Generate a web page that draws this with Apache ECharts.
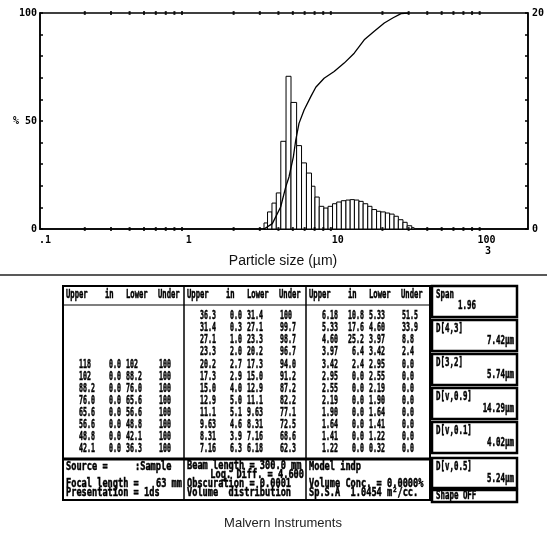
<!DOCTYPE html>
<html><head><meta charset="utf-8">
<script src="https://cdn.jsdelivr.net/npm/echarts@6/dist/echarts.min.js"></script>
<style>html,body{margin:0;padding:0;background:#fff;}#c{width:547px;height:537px;}</style>
</head><body><div id="c"></div>
<script>
// ---------- chart data ----------
const binEdges = [3.20, 3.38, 3.62, 3.87, 4.15, 4.50, 4.86, 5.30, 5.72, 6.17, 6.67, 7.04, 7.52, 8.07, 8.62, 9.24, 9.86, 10.59, 11.37, 12.14, 12.96, 13.90, 14.84, 15.93, 17.00, 18.26, 19.49, 20.93, 22.35, 23.95, 25.57, 27.47, 29.31, 31.48, 32.67];
const binHeights = [2.8, 7.9, 12, 16.7, 40.6, 70.7, 58.6, 38.6, 30.6, 25.9, 19.8, 14.8, 10.5, 9.7, 10.5, 11.7, 12.5, 13.1, 13.4, 13.6, 13.4, 12.8, 11.7, 10.5, 9.0, 8.2, 7.9, 7.4, 6.9, 5.9, 4.3, 3.1, 1.5, 0.6];
const cumSize = [3.20, 3.64, 4.14, 4.48, 4.71, 5.04, 5.23, 5.50, 5.95, 6.60, 7.13, 8.11, 9.47, 11.06, 12.92, 15.09, 17.62, 20.58, 23.44, 26.67, 30];
const cumPct  = [0, 2.5, 10.2, 19.5, 24.1, 33.4, 41.2, 48.9, 55.1, 61.3, 65.6, 69.8, 72.9, 76.8, 81.4, 87.6, 91.5, 95.4, 97.7, 99.7, 100];
const minorTickVals = [0.2,0.3,0.4,0.5,0.6,0.7,0.8,0.9,2,3,4,5,6,7,8,9,20,30,40,50,60,70,80,90];
const xAxisTitle = 'Particle size (µm)';
const leftAxisLabels = {0:'0', 50:'% 50', 100:'100'};

// ---------- table data ----------
const tableHeader = ['Upper','in','Lower','Under'];
const col1Upper = ['118','102','88.2','76.0','65.6','56.6','48.8','42.1'];
const col1In    = ['0.0','0.0','0.0','0.0','0.0','0.0','0.0','0.0'];
const col1Lower = ['102','88.2','76.0','65.6','56.6','48.8','42.1','36.3'];
const col1Under = ['100','100','100','100','100','100','100','100'];
const col2Upper = ['36.3','31.4','27.1','23.3','20.2','17.3','15.0','12.9','11.1','9.63','8.31','7.16'];
const col2In    = ['0.0','0.3','1.0','2.0','2.7','2.9','4.0','5.0','5.1','4.6','3.9','6.3'];
const col2Lower = ['31.4','27.1','23.3','20.2','17.3','15.0','12.9','11.1','9.63','8.31','7.16','6.18'];
const col2Under = ['100','99.7','98.7','96.7','94.0','91.2','87.2','82.2','77.1','72.5','68.6','62.3'];
const col3Upper = ['6.18','5.33','4.60','3.97','3.42','2.95','2.55','2.19','1.90','1.64','1.41','1.22'];
const col3In    = ['10.8','17.6','25.2','6.4','2.4','0.0','0.0','0.0','0.0','0.0','0.0','0.0'];
const col3Lower = ['5.33','4.60','3.97','3.42','2.95','2.55','2.19','1.90','1.64','1.41','1.22','0.32'];
const col3Under = ['51.5','33.9','8.8','2.4','0.0','0.0','0.0','0.0','0.0','0.0','0.0','0.0'];
const sideLabels = ['Span','D[4,3]','D[3,2]','D[v,0.9]','D[v,0.1]','D[v,0.5]'];
const sideValues = ['1.96','7.42µm','5.74µm','14.29µm','4.02µm','5.24µm'];
const shapeText = 'Shape OFF';
const footCol1 = ['Source =', ':Sample', 'Focal length =', '63 mm', 'Presentation = 1ds'];
const footCol2 = ['Beam length = 300.0 mm', 'Log. Diff. = 4.600', 'Obscuration = 0.0001', 'Volume  distribution'];
const footCol3 = ['Model indp', 'Volume Conc. = 0.0000%', 'Sp.S.A  1.0454 m²/cc.'];
const caption = 'Malvern Instruments';

// ---------- build ----------
const chart = echarts.init(document.getElementById('c'), null, {renderer:'canvas'});
const MONO = 'DejaVu Sans Mono';
const bins = binHeights.map((h,i)=>[binEdges[i], binEdges[i+1], h]);
const cum = cumSize.map((s,i)=>[s, cumPct[i]]);
const tickMarks = [];
minorTickVals.forEach(v=>{tickMarks.push([v,0]); tickMarks.push([v,100]);});

const TFONT = 'bold 12px "'+MONO+'"';
function txt(x,y,text,o){
  o = o||{};
  const st = {text:text, fill:o.fill||'#000', font:o.font||TFONT,
      align:o.align||'left', textAlign:o.align||'left', verticalAlign:'middle', textVerticalAlign:'middle'};
  if (o.heavy !== false && !o.font) { st.stroke = '#000'; st.lineWidth = 0.5; }
  return {type:'text', x:x, y:y, scaleX:o.sx||1, z:10, style:st};
}
function line(x1,y1,x2,y2,w,c){
  return {type:'line', z:5, shape:{x1:x1,y1:y1,x2:x2,y2:y2}, style:{stroke:c||'#000', lineWidth:w||1}};
}
function box(x,y,w,h,lw){
  return {type:'rect', z:5, shape:{x:x,y:y,width:w,height:h}, style:{fill:'none', stroke:'#000', lineWidth:lw||1.5}};
}

const g = [];
g.push(txt(283, 261, xAxisTitle, {font:'14px "Liberation Sans"', align:'center', fill:'#111'}));
g.push(txt(488, 251, '3', {font:'bold 10px "'+MONO+'"', align:'center'}));
g.push(line(0, 275, 547, 275, 1.5, '#222'));
g.push(txt(283, 523, caption, {font:'13px "Liberation Sans"', align:'center', fill:'#222'}));

const TL=63, TR=430, TT=286, TB=500, HB=305, FT=459;
const colX=[63,184,306];
g.push(box(TL,TT,TR-TL,TB-TT,2));
g.push(line(184,TT,184,TB,1.5));
g.push(line(306,TT,306,TB,1.5));
g.push(line(TL,HB,TR,HB,1.2));
g.push(line(TL,FT,TR,FT,3));

const numSX = 0.55, hdrSX = 0.6, footSX = 0.72;
colX.forEach(cx=>{
  g.push(txt(cx+3, 295, tableHeader[0], {sx:hdrSX}));
  g.push(txt(cx+42, 295, tableHeader[1], {sx:hdrSX}));
  g.push(txt(cx+63, 295, tableHeader[2], {sx:hdrSX}));
  g.push(txt(cx+95, 295, tableHeader[3], {sx:hdrSX}));
});
const rowY0 = 316, rowStep = 12.1;
function addCol(cx, startRow, up, inn, lo, un){
  up.forEach((v,i)=>{
    const y = rowY0 + (startRow+i)*rowStep;
    g.push(txt(cx+16, y, up[i], {sx:numSX}));
    g.push(txt(cx+58, y, inn[i], {sx:numSX, align:'right'}));
    g.push(txt(cx+63, y, lo[i], {sx:numSX}));
    g.push(txt(cx+96, y, un[i], {sx:numSX}));
  });
}
addCol(colX[0], 4, col1Upper, col1In, col1Lower, col1Under);
addCol(colX[1], 0, col2Upper, col2In, col2Lower, col2Under);
addCol(colX[2], 0, col3Upper, col3In, col3Lower, col3Under);

g.push(txt(66, 467, footCol1[0], {sx:footSX}));
g.push(txt(135, 467, footCol1[1], {sx:footSX}));
g.push(txt(66, 484, footCol1[2], {sx:footSX}));
g.push(txt(182, 484, footCol1[3], {sx:footSX, align:'right'}));
g.push(txt(66, 493, footCol1[4], {sx:footSX}));
g.push(txt(187, 466, footCol2[0], {sx:footSX}));
g.push(txt(304, 475, footCol2[1], {sx:footSX, align:'right'}));
g.push(txt(187, 484, footCol2[2], {sx:footSX}));
g.push(txt(187, 493, footCol2[3], {sx:footSX}));
g.push(txt(309, 467, footCol3[0], {sx:footSX}));
g.push(txt(309, 484, footCol3[1], {sx:footSX}));
g.push(txt(309, 493, footCol3[2], {sx:footSX}));

const sideTop = [286, 320, 354, 388, 422, 458];
const sideH = [31, 31, 31, 31, 31, 30];
sideTop.forEach((t,i)=>{
  g.push(box(432, t, 85, sideH[i], 2.5));
  g.push(txt(436, t+9, sideLabels[i], {sx:0.62}));
  if (i === 0) g.push(txt(458, t+20, sideValues[i], {sx:0.62}));
  else g.push(txt(514, t+21, sideValues[i], {sx:0.62, align:'right'}));
});
g.push(box(432, 490, 85, 12, 2.5));
g.push(txt(436, 496, shapeText, {sx:0.62}));

const labelFont = {fontFamily:MONO, fontWeight:'bold', fontSize:10, color:'#000'};
const option = {
  animation:false,
  backgroundColor:'#fff',
  grid:{left:40, right:17, top:13, bottom:308, show:true, borderColor:'#000', borderWidth:1.5, backgroundColor:'transparent'},
  xAxis:{type:'log', logBase:10, min:0.1, max:190, interval:1,
    axisLine:{show:true, lineStyle:{color:'#000', width:1.5}},
    axisTick:{show:false}, splitLine:{show:false}, minorTick:{show:false},
    axisLabel:Object.assign({margin:6, showMaxLabel:false,
      formatter:v=>{ if (Math.abs(v-0.1)<1e-9) return '{p|.1}'; if (v>150) return ''; return String(Math.round(v)); },
      rich:{p:{fontFamily:MONO, fontWeight:'bold', fontSize:10, color:'#000', padding:[0,0,0,10]}}}, labelFont)},
  yAxis:[
    {type:'value', position:'left', min:0, max:100, interval:50,
      axisLine:{show:true, lineStyle:{color:'#000', width:1.5}},
      axisTick:{show:true, inside:true, length:3, lineStyle:{color:'#000', width:1.5}},
      minorTick:{show:true, splitNumber:5, length:3, lineStyle:{color:'#000', width:1.5}},
      splitLine:{show:false},
      axisLabel:Object.assign({margin:3, formatter:v=>leftAxisLabels[v]||''}, labelFont)},
    {type:'value', position:'right', min:0, max:20, interval:20,
      axisLine:{show:true, lineStyle:{color:'#000', width:1.5}},
      axisTick:{show:true, inside:true, length:3, lineStyle:{color:'#000', width:1.5}},
      minorTick:{show:true, splitNumber:10, length:3, lineStyle:{color:'#000', width:1.5}},
      splitLine:{show:false},
      axisLabel:Object.assign({margin:4}, labelFont)}
  ],
  series:[
    {type:'custom', name:'histogram', xAxisIndex:0, yAxisIndex:0, z:2,
      encode:{x:[0,1], y:2}, data:bins,
      renderItem:(params, api)=>{
        const lo=api.value(0), hi=api.value(1), h=api.value(2);
        const a=api.coord([lo,h]), b=api.coord([hi,0]);
        return {type:'rect', shape:{x:a[0], y:a[1], width:b[0]-a[0], height:b[1]-a[1]},
          style:{fill:'#fff', stroke:'#000', lineWidth:1}};
      }},
    {type:'line', name:'cumulative', xAxisIndex:0, yAxisIndex:0, z:4, data:cum,
      showSymbol:false, symbol:'none', lineStyle:{color:'#000', width:1.3}},
    {type:'scatter', name:'ticks', xAxisIndex:0, yAxisIndex:0, z:3, clip:false, data:tickMarks,
      symbol:'rect', symbolSize:[2,4], itemStyle:{color:'#000'}, silent:true}
  ],
  graphic:{elements:g}
};
chart.setOption(option);
</script>
</body></html>
